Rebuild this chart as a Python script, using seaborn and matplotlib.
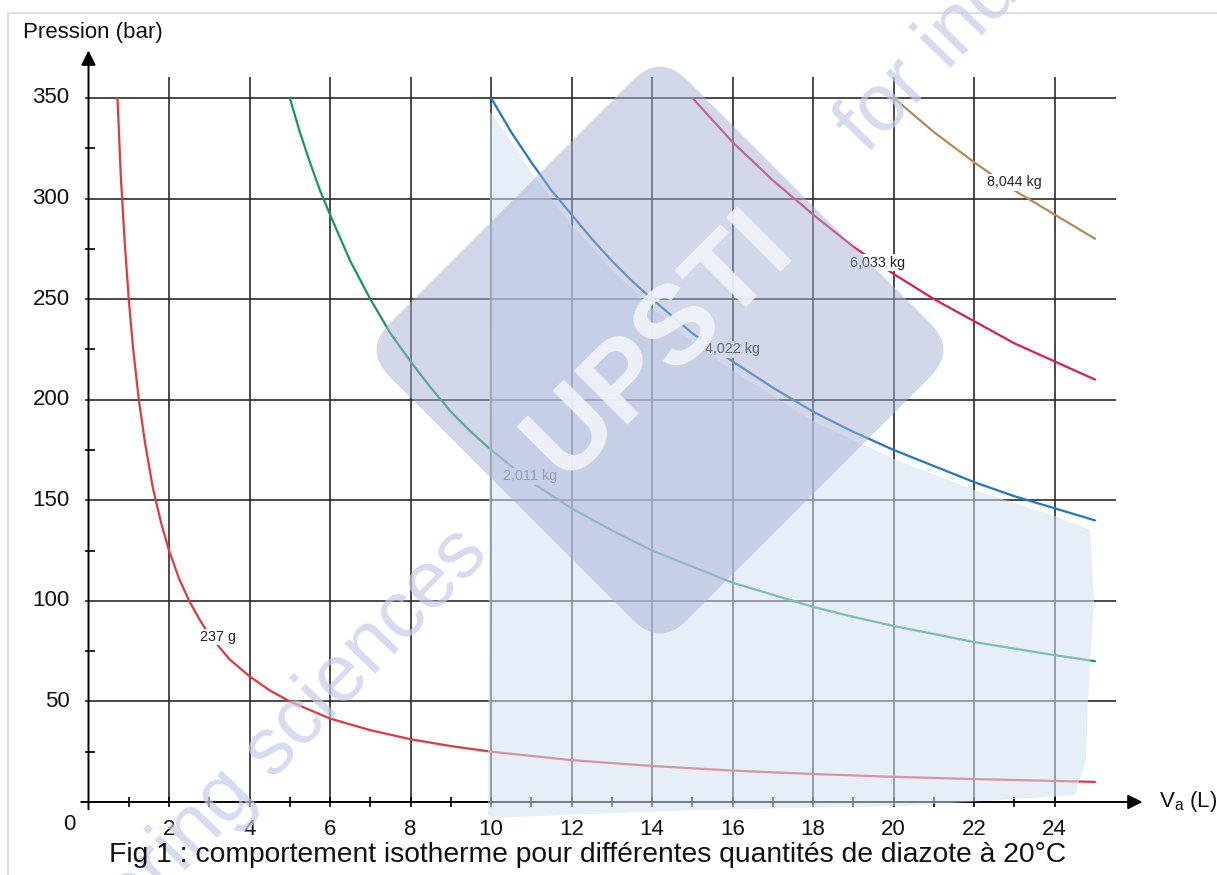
import numpy as np
import pandas as pd
import seaborn as sns
import matplotlib.pyplot as plt
from matplotlib.patches import FancyBboxPatch, Polygon
from matplotlib.transforms import Affine2D

# values: volume (L) -> pressure (bar) for each nitrogen mass
v_237g = [0.72, 0.8, 0.9, 1.0, 1.1, 1.25, 1.4, 1.6, 1.8, 2.0, 2.25, 2.5, 2.75, 3.0, 3.5,
          4.0, 4.5, 5.0, 6.0, 7.0, 8.0, 9.0, 10.0, 12.0, 14.0, 16.0, 18.0, 20.0, 22.0, 25.0]
p_237g = [350, 312, 278, 250, 227, 200, 179, 156, 139, 125, 111, 100, 91, 83, 71,
          62.5, 55.5, 50, 41.5, 35.7, 31.2, 27.8, 25, 20.8, 17.9, 15.6, 13.9, 12.5, 11.4, 10]
v_2011 = [5.0, 5.25, 5.5, 5.75, 6.0, 6.5, 7.0, 7.5, 8.0, 8.5, 9.0, 9.5, 10.0, 11.0, 12.0,
          13.0, 14.0, 15.0, 16.0, 17.0, 18.0, 19.0, 20.0, 22.0, 24.0, 25.0]
p_2011 = [350, 333, 318, 304, 292, 269, 250, 233, 219, 206, 194, 184, 175, 159, 146,
          135, 125, 117, 109, 103, 97, 92, 87.5, 79.5, 73, 70]
v_4022 = [10, 10.5, 11, 11.5, 12, 12.5, 13, 13.5, 14, 15, 16, 17, 18, 19, 20, 21, 22, 23, 24, 25]
p_4022 = [350, 333, 318, 304, 292, 280, 269, 259, 250, 233, 219, 206, 194, 184, 175, 167,
          159, 152, 146, 140]
v_6033 = [15, 16, 17, 18, 19, 20, 21, 22, 23, 24, 25]
p_6033 = [350, 328, 309, 292, 276, 262.5, 250, 239, 228, 219, 210]
v_8044 = [20, 21, 22, 23, 24, 25]
p_8044 = [350, 333, 318, 304, 292, 280]

masses = ["237 g", "2,011 kg", "4,022 kg", "6,033 kg", "8,044 kg"]
label_v = [3.22, 10.97, 16.0, 19.6, 23.0]
label_p = [82, 162, 225, 268, 308]
colors = ["#e0393e", "#17985a", "#1f78c1", "#d81e5b", "#b38b57"]

x_ticks = list(range(2, 25, 2))
y_ticks = list(range(50, 351, 50))

frames = []
for name, v, p in zip(masses, [v_237g, v_2011, v_4022, v_6033, v_8044],
                      [p_237g, p_2011, p_4022, p_6033, p_8044]):
    frames.append(pd.DataFrame({"V": v, "P": p, "masse": name}))
df = pd.concat(frames, ignore_index=True)

sns.set_style("white")
plt.rcParams["font.family"] = ["Liberation Sans", "DejaVu Sans"]

fig = plt.figure(figsize=(12.17, 8.75), dpi=100)
ax = fig.add_axes([0, 0, 1, 1])
ax.axis("off")

# grid
ax.vlines(x_ticks, 0, 360.4, color="#2b2b2b", lw=1.2, zorder=1)
ax.hlines(y_ticks, -0.09, 25.52, color="#2b2b2b", lw=1.2, zorder=1)
# minor ticks
ax.hlines(np.arange(25, 350, 50), -0.09, 0.16, color="k", lw=1.2, zorder=1)
ax.vlines(range(1, 25), -2.5, 2.5, color="k", lw=1.2, zorder=1)

# curves
sns.lineplot(data=df, x="V", y="P", hue="masse", palette=dict(zip(masses, colors)),
             estimator=None, sort=False, lw=1.6, legend=False, ax=ax, zorder=2)

for name, lv, lp in zip(masses, label_v, label_p):
    ax.text(lv, lp, name, fontsize=10.3, ha="center", va="center", color="#222222", zorder=3,
            bbox=dict(facecolor="white", edgecolor="none", pad=1.0))

# axes with arrows
ax.annotate("", xy=(26.25, 0), xytext=(-0.25, 0),
            arrowprops=dict(arrowstyle="-|>", mutation_scale=22, lw=1.4, color="k"), zorder=3)
ax.annotate("", xy=(0, 375), xytext=(0, -5),
            arrowprops=dict(arrowstyle="-|>", mutation_scale=22, lw=1.4, color="k"), zorder=3)

for t in x_ticks:
    ax.text(t, -13.9, str(t), fontsize=16, ha="center", va="center", color="#111111")
for t in y_ticks:
    ax.text(-0.47, t, str(t), fontsize=16, ha="right", va="center", color="#111111")
ax.text(-0.47, -11.4, "0", fontsize=16, ha="center", va="center", color="#111111")
ax.text(-1.63, 382.3, "Pression (bar)", fontsize=16, ha="left", va="center", color="#111111")
ax.text(26.6, 0, r"$\mathregular{V_a}$ (L)", fontsize=16, ha="left", va="center", color="#111111")

ax.set_xlim(-2.198, 28.03)
ax.set_ylim(-36.3, 398.7)

# overlay in pixel coordinates for the watermark and caption
ov = fig.add_axes([0, 0, 1, 1], facecolor="none")
ov.set_xlim(0, 1217)
ov.set_ylim(875, 0)
ov.axis("off")

ov.plot([8, 8, 1217], [875, 13, 13], color="#e0e0e0", lw=1.6)

blob = [(490, 112), (510, 140), (531, 172), (571, 224), (612, 270), (652, 308), (692, 342),
        (733, 371), (813, 421), (894, 459), (974, 490), (1055, 516), (1090, 530),
        (1094, 600), (1088, 700), (1086, 760), (1075, 795), (1000, 800), (900, 806),
        (700, 810), (560, 815), (495, 818), (488, 815)]
ov.add_patch(Polygon(blob, closed=True, facecolor="#d3e1f3", edgecolor="none", alpha=0.55, zorder=4))

side, rad = 420, 38
sq = FancyBboxPatch((660 - side / 2 + rad, 350 - side / 2 + rad), side - 2 * rad, side - 2 * rad,
                    boxstyle=f"round,pad={rad}", facecolor="#a9b1d6", edgecolor="none",
                    alpha=0.5, zorder=5)
sq.set_transform(Affine2D().rotate_deg_around(660, 350, 45) + ov.transData)
ov.add_patch(sq)
ov.text(660, 345, "UPSTI", fontsize=80, fontweight="bold", color="#f2f4fa", alpha=0.9,
        rotation=45, ha="center", va="center", rotation_mode="anchor", zorder=6)

ov.text(490, 555, "engineering sciences", fontsize=58, color="#c5cce8", alpha=0.7,
        rotation=46, ha="right", va="baseline", rotation_mode="anchor", zorder=6)
ov.text(867, 155, "for industry", fontsize=58, color="#c5cce8", alpha=0.7,
        rotation=46, ha="left", va="baseline", rotation_mode="anchor", zorder=6)

ov.text(588, 855, "Fig 1 : comportement isotherme pour différentes quantités de diazote à 20°C",
        fontsize=20.3, ha="center", va="center", color="#111111", zorder=7)

fig.savefig("out.png", dpi=100)
